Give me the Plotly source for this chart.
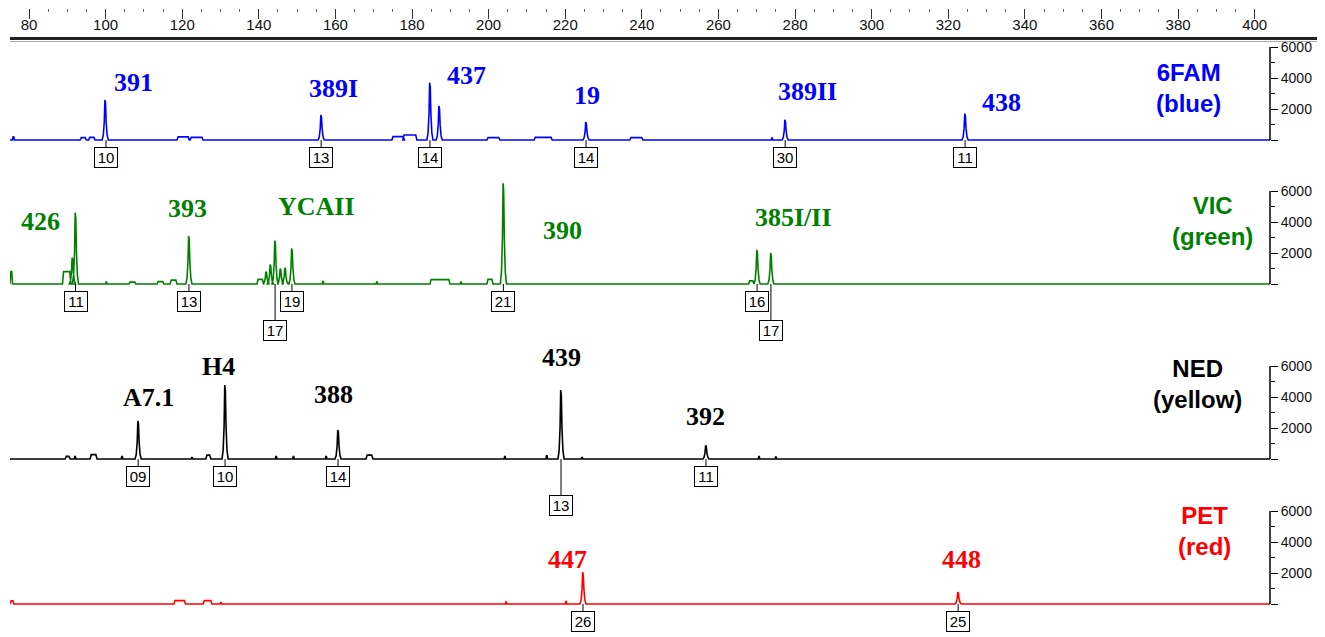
import plotly.graph_objects as go

# ---------------- data (size in bp, signal in RFU) ----------------
X_MIN, X_MAX = 75.04, 404.0
SIZE_TICKS = list(range(80, 401, 20))
RFU_TICKS = [0, 2000, 4000, 6000]
RFU_TICK_TEXT = ["", "2000", "4000", "6000"]
RFU_MINOR = [1000, 3000, 5000]

# 6FAM (blue)
blue_peak_bp = [99.9, 156.28, 184.68, 187.09, 225.43, 277.42, 324.39]
blue_peak_rfu = [2580, 1610, 3700, 2200, 1150, 1300, 1700]
blue_bump_start = [75.68, 93.35, 95.56, 118.64, 122.05, 174.74, 177.6, 199.54, 211.88, 236.87, 273.8]
blue_bump_end = [76.18, 94.96, 97.26, 121.85, 125.46, 178.0, 181.27, 202.95, 216.6, 240.28, 274.2]
blue_bump_rfu = [200, 150, 170, 200, 170, 220, 320, 150, 170, 150, 120]
blue_marker = ["391", "389I", "437", "19", "389II", "438"]
blue_marker_bp = [107.2, 159.39, 194.12, 225.73, 283.14, 334.02]
blue_marker_rfu = [3740, 3355, 4190, 2840, 3160, 2390]
blue_allele = ["10", "13", "14", "14", "30", "11"]
blue_allele_bp = [100.1, 156.28, 184.68, 225.43, 277.42, 324.39]
blue_allele_low = [False, False, False, False, False, False]

# VIC (green)
green_peak_bp = [91.34, 92.14, 121.75, 141.93, 143.04, 144.25, 145.65, 146.86, 148.65, 203.85, 270.09, 273.7]
green_peak_rfu = [1700, 4600, 3100, 800, 1250, 2800, 1000, 1050, 2300, 6500, 2200, 2000]
green_bump_start = [75.04, 88.73, 99.97, 106.09, 113.42, 116.84, 139.52, 156.58, 170.63, 184.68, 192.61, 199.54, 267.88]
green_bump_end = [75.7, 90.94, 100.37, 107.9, 115.23, 118.64, 141.23, 156.98, 171.03, 189.91, 193.01, 201.15, 269.28]
green_bump_rfu = [800, 800, 120, 120, 150, 250, 300, 150, 120, 280, 120, 300, 200]
green_marker = ["426", "393", "YCAII", "390", "385I/II"]
green_marker_bp = [82.91, 121.25, 154.97, 219.4, 279.53]
green_marker_rfu = [4060, 4840, 4970, 3420, 4320]
green_allele = ["11", "13", "17", "19", "21", "16", "17"]
green_allele_bp = [92.14, 121.75, 144.25, 148.65, 203.85, 270.09, 273.7]
green_allele_low = [False, False, True, False, False, False, True]

# NED (yellow, drawn black)
black_peak_bp = [108.5, 131.19, 160.69, 218.9, 256.74]
black_peak_rfu = [2450, 4770, 1870, 4450, 880]
black_bump_start = [89.43, 91.84, 95.96, 104.09, 122.35, 126.17, 144.33, 148.85, 157.38, 167.99, 204.05, 214.99, 224.22, 270.39, 274.8]
black_bump_end = [90.74, 92.24, 97.76, 104.49, 122.75, 127.48, 144.73, 149.25, 157.78, 169.8, 204.45, 215.39, 224.62, 270.79, 275.2]
black_bump_rfu = [170, 150, 280, 150, 100, 250, 150, 150, 150, 250, 150, 200, 100, 150, 120]
black_marker = ["A7.1", "H4", "388", "439", "392"]
black_marker_bp = [111.11, 129.38, 159.39, 218.9, 256.54]
black_marker_rfu = [4000, 5940, 4130, 6520, 2770]
black_allele = ["09", "10", "14", "13", "11"]
black_allele_bp = [108.5, 131.19, 160.69, 218.9, 256.74]
black_allele_low = [False, False, False, True, False]

# PET (red)
red_peak_bp = [224.63, 322.58]
red_peak_rfu = [2060, 770]
red_bump_start = [75.04, 117.84, 125.46, 129.89, 204.36, 220.02]
red_bump_end = [76.08, 120.85, 127.76, 130.29, 204.76, 220.42]
red_bump_rfu = [200, 220, 220, 120, 120, 150]
red_marker = ["447", "448"]
red_marker_bp = [220.52, 323.58]
red_marker_rfu = [2900, 2900]
red_allele = ["26", "25"]
red_allele_bp = [224.63, 322.58]
red_allele_low = [False, False]

channel_names = ["6FAM<br>(blue)", "VIC<br>(green)", "NED<br>(yellow)", "PET<br>(red)"]
channel_name_bp = [382.6, 389.1, 385.0, 387.0]
channel_name_rfu = [3350, 4060, 4840, 4710]

# ---------------- styling / layout ----------------
# the page body adds an 8 px margin, so the figure is laid out 8 px smaller
W, H = 1317, 629
ML, MR = 2, 55
BASELINE_PX = [132, 276, 451, 596]
PX_PER_RFU = 93 / 6000
Y_LO, Y_HI = -300, 7000
COLORS = ["#0000ff", "#008000", "#000000", "#ff0000"]
PEAK_DX = [-0.8, -0.5, -0.25, -0.08, 0.08, 0.25, 0.5, 0.8]
PEAK_FY = [0, 0.12, 0.45, 1.0, 0.92, 0.45, 0.12, 0]
NARROW = "Liberation Sans Narrow, Arial Narrow, Liberation Sans, Arial"


def build_trace(peak_bp, peak_rfu, bump_start, bump_end, bump_rfu):
    feats = []
    for c, h in zip(peak_bp, peak_rfu):
        feats.append((c + PEAK_DX[0], [(c + dx, h * f) for dx, f in zip(PEAK_DX, PEAK_FY)]))
    for s, e, h in zip(bump_start, bump_end, bump_rfu):
        edge = min(0.3, (e - s) / 3)
        feats.append((s, [(s, 0), (s + edge, h), (e - edge, h), (e, 0)]))
    feats.sort(key=lambda f: f[0])
    xs, ys = [X_MIN], [0]
    for _, pts in feats:
        for x, y in pts:
            xs.append(x)
            ys.append(y)
    xs.append(X_MAX)
    ys.append(0)
    return xs, ys


channels = [
    (blue_peak_bp, blue_peak_rfu, blue_bump_start, blue_bump_end, blue_bump_rfu,
     blue_marker, blue_marker_bp, blue_marker_rfu, blue_allele, blue_allele_bp, blue_allele_low),
    (green_peak_bp, green_peak_rfu, green_bump_start, green_bump_end, green_bump_rfu,
     green_marker, green_marker_bp, green_marker_rfu, green_allele, green_allele_bp, green_allele_low),
    (black_peak_bp, black_peak_rfu, black_bump_start, black_bump_end, black_bump_rfu,
     black_marker, black_marker_bp, black_marker_rfu, black_allele, black_allele_bp, black_allele_low),
    (red_peak_bp, red_peak_rfu, red_bump_start, red_bump_end, red_bump_rfu,
     red_marker, red_marker_bp, red_marker_rfu, red_allele, red_allele_bp, red_allele_low),
]

fig = go.Figure()
annotations = []
shapes = []
layout_axes = {}

for i, ch in enumerate(channels):
    (pbp, prfu, bs, be, brfu, mk, mkbp, mkrfu, al, albp, allow) = ch
    yname = "y" if i == 0 else f"y{i + 1}"
    ykey = "yaxis" if i == 0 else f"yaxis{i + 1}"
    b = BASELINE_PX[i]
    bottom = 1 - (b - Y_LO * PX_PER_RFU) / H
    top = 1 - (b - Y_HI * PX_PER_RFU) / H
    layout_axes[ykey] = dict(
        domain=[bottom, top], range=[Y_LO, Y_HI], anchor="x", side="right",
        tickvals=RFU_TICKS, ticktext=RFU_TICK_TEXT, ticks="outside", ticklen=7,
        tickwidth=1.2, tickcolor="#000", showline=False, showgrid=False, zeroline=False,
        minor=dict(tickvals=RFU_MINOR, ticks="outside", ticklen=4, tickcolor="#000", tickwidth=1.2),
        tickfont=dict(family=NARROW, size=14, color="#111"), fixedrange=True,
    )
    xs, ys = build_trace(pbp, prfu, bs, be, brfu)
    fig.add_trace(go.Scatter(x=xs, y=ys, mode="lines", yaxis=yname, xaxis="x",
                             line=dict(color=COLORS[i], width=1.6), hoverinfo="skip",
                             showlegend=False))
    # right axis line from 0 to 6000
    shapes.append(dict(type="line", xref="x domain", yref=yname, x0=1, x1=1,
                       y0=0, y1=6000, line=dict(color="#000", width=1.5)))
    # marker names
    for t, xb, yr in zip(mk, mkbp, mkrfu):
        annotations.append(dict(x=xb, y=yr, xref="x", yref=yname, text=t, showarrow=False,
                                font=dict(family="Liberation Serif, Times New Roman, serif",
                                          size=26, color=COLORS[i], weight="bold")))
    # allele boxes
    for t, xb, low in zip(al, albp, allow):
        annotations.append(dict(x=xb, y=0, xref="x", yref=yname, text=t, showarrow=True,
                                arrowhead=0, arrowwidth=1, arrowcolor="#000", ax=0,
                                ay=46 if low else 17, bordercolor="#000", borderwidth=1,
                                borderpad=1, bgcolor="#fff", width=20, height=17,
                                font=dict(family=NARROW, size=15, color="#000")))
    # channel name
    annotations.append(dict(x=channel_name_bp[i], y=channel_name_rfu[i], xref="x", yref=yname,
                            text=channel_names[i], showarrow=False,
                            font=dict(family="Liberation Sans, Arial, sans-serif", size=24,
                                      color=COLORS[i], weight="bold")))

# thick double rule below the size scale
rule_x1 = (W - ML) / (W - ML - MR)
shapes.append(dict(type="line", xref="paper", yref="paper", x0=0, x1=rule_x1,
                   y0=1 - 30.5 / H, y1=1 - 30.5 / H, line=dict(color="#222", width=3)))
shapes.append(dict(type="line", xref="paper", yref="paper", x0=0, x1=rule_x1,
                   y0=1 - 33.5 / H, y1=1 - 33.5 / H, line=dict(color="#aaa", width=1)))

fig.update_layout(
    width=W, height=H, autosize=False,
    margin=dict(l=ML, r=MR, t=0, b=0),
    paper_bgcolor="#fff", plot_bgcolor="rgba(0,0,0,0)",
    xaxis=dict(range=[X_MIN, X_MAX], side="top", anchor="free", position=1,
               tickvals=SIZE_TICKS, ticks="inside", ticklen=10, tickwidth=1.2, tickcolor="#333",
               ticklabelposition="inside",
               minor=dict(dtick=5, tick0=0, ticks="inside", ticklen=3, tickcolor="#666"),
               showline=False, showgrid=False, zeroline=False, fixedrange=True,
               tickfont=dict(family=NARROW, size=15, color="#111")),
    annotations=annotations, shapes=shapes, showlegend=False,
    **layout_axes,
)

fig.write_html("out.html")
